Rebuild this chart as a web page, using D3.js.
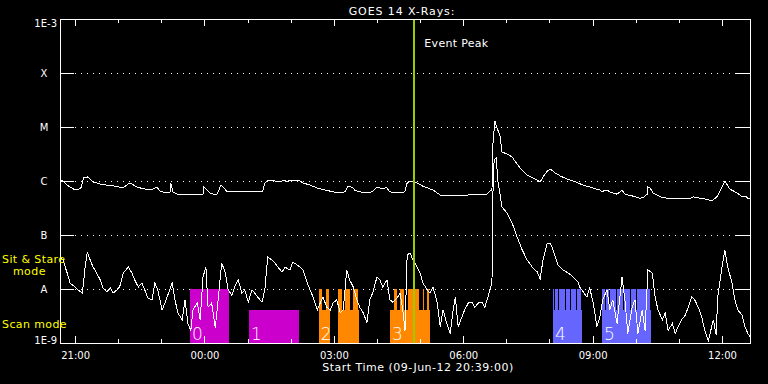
<!DOCTYPE html>
<meta charset="utf-8">
<style>
body { margin: 0; background: #000; }
svg { display: block; background: #000; }
text { font-family: "DejaVu Sans", sans-serif; fill: #fff; }
.axis path { display: none; }
.axis line { stroke: #fff; shape-rendering: crispEdges; }
.axis text { font-size: 10px; }
.grid line { stroke: #fff; stroke-dasharray: 1,5; shape-rendering: crispEdges; }
.xrs { fill: none; stroke: #fff; stroke-width: 1; shape-rendering: crispEdges; }
.mode { fill: #ff0; font-size: 11px; letter-spacing: 0.4px; }
.blk text { font-size: 17px; font-weight: 200; }
</style>
<svg width="768" height="384"></svg>
<script src="https://d3js.org/d3.v7.min.js"></script>
<script>

// start / end of the plotted interval
var t0 = new Date(Date.UTC(2012, 5, 9, 20, 39)),
    t1 = new Date(Date.UTC(2012, 5, 10, 12, 39));

var yTicks = [1e-9, 1e-8, 1e-7, 1e-6, 1e-5, 1e-4, 1e-3];
var yTickLabels = ["1E-9", "A", "B", "C", "M", "X", "1E-3"];

// GOES 14 long channel (1-8 A): [minutes after start, W/m^2]
var longXrs = [[0,1.04e-6],[4,1.0e-6],[8,0.88e-6],[14,0.77e-6],[19,0.71e-6],[25,0.70e-6],[29,0.74e-6],[33,1.14e-6],[38,1.19e-6],[42,1.09e-6],
  [46,0.96e-6],[51,0.92e-6],[56,0.88e-6],[65,0.84e-6],[74,0.81e-6],[83,0.77e-6],[89,0.77e-6],[93,0.84e-6],[96,0.92e-6],[100,0.88e-6],
  [107,0.77e-6],[118,0.71e-6],[129,0.71e-6],[135,0.77e-6],[139,0.65e-6],[146,0.61e-6],[153,0.61e-6],[154,0.92e-6],[157,0.63e-6],[163,0.57e-6],
  [174,0.56e-6],[188,0.55e-6],[199,0.57e-6],[200,0.77e-6],[205,0.68e-6],[209,0.60e-6],[214,0.57e-6],[218,0.56e-6],[221,0.68e-6],[224,0.84e-6],
  [228,0.74e-6],[232,0.65e-6],[241,0.63e-6],[257,0.63e-6],[271,0.63e-6],[282,0.65e-6],[285,0.92e-6],[288,1.0e-6],[292,1.04e-6],[299,1.0e-6],
  [306,0.96e-6],[312,1.04e-6],[316,0.96e-6],[320,1.04e-6],[324,1.0e-6],[330,1.04e-6],[334,1.0e-6],[338,0.92e-6],[348,0.84e-6],[358,0.74e-6],
  [369,0.68e-6],[380,0.63e-6],[387,0.60e-6],[394,0.61e-6],[397,0.65e-6],[401,0.81e-6],[405,0.77e-6],[408,0.74e-6],[410,0.68e-6],[417,0.63e-6],
  [426,0.60e-6],[434,0.63e-6],[441,0.77e-6],[445,0.74e-6],[449,0.71e-6],[454,0.77e-6],[459,0.63e-6],[469,0.60e-6],[477,0.60e-6],[480,0.65e-6],
  [483,0.92e-6],[487,1.0e-6],[491,1.0e-6],[497,0.92e-6],[504,0.81e-6],[512,0.74e-6],[519,0.68e-6],[529,0.55e-6],[543,0.53e-6],[557,0.53e-6],
  [566,0.53e-6],[570,0.57e-6],[584,0.57e-6],[594,0.57e-6],[598,0.65e-6],[601,0.68e-6],[602,4.26e-6],[605,1.29e-5],[608,9.6e-6],[612,7.1e-6],
  [615,3.45e-6],[622,3.16e-6],[629,2.78e-6],[640,1.74e-6],[650,1.29e-6],[658,1.14e-6],[668,0.96e-6],[672,1.19e-6],[678,1.53e-6],[682,1.67e-6],
  [689,1.41e-6],[696,1.24e-6],[705,1.09e-6],[714,1.0e-6],[728,0.84e-6],[742,0.74e-6],[751,0.68e-6],[755,0.63e-6],[758,0.68e-6],[761,0.68e-6],
  [765,0.63e-6],[775,0.57e-6],[779,0.63e-6],[782,0.68e-6],[786,0.57e-6],[796,0.53e-6],[807,0.48e-6],[813,0.51e-6],[817,0.57e-6],[818,0.77e-6],
  [821,0.74e-6],[825,0.60e-6],[835,0.51e-6],[845,0.48e-6],[863,0.48e-6],[877,0.48e-6],[881,0.51e-6],[890,0.48e-6],[900,0.46e-6],[907,0.43e-6],
  [914,0.51e-6],[921,0.77e-6],[925,1.0e-6],[932,0.71e-6],[942,0.60e-6],[949,0.51e-6],[953,0.53e-6],[957,0.48e-6],[960,0.48e-6]];

// GOES 14 short channel (0.5-4 A): [minutes after start, W/m^2]
var shortXrs = [[0,3.9e-8],[4,3.45e-8],[10,1.98e-8],[14,1.29e-8],[21,1.09e-8],[25,0.96e-8],[31,0.84e-8],[32,1.09e-8],[35,2.55e-8],[38,4.84e-8],
  [42,3.45e-8],[46,2.55e-8],[51,1.98e-8],[56,1.47e-8],[60,1.04e-8],[65,0.88e-8],[70,1.04e-8],[74,0.84e-8],[79,0.96e-8],[83,1.09e-8],
  [88,1.98e-8],[95,2.55e-8],[100,1.98e-8],[104,1.47e-8],[109,1.09e-8],[114,1.29e-8],[118,0.96e-8],[122,0.68e-8],[128,0.63e-8],[132,1.29e-8],
  [136,0.96e-8],[142,0.41e-8],[146,0.55e-8],[150,0.77e-8],[156,1.29e-8],[160,0.63e-8],[164,0.36e-8],[170,0.27e-8],[174,0.63e-8],[178,0.23e-8],
  [182,0.17e-8],[185,0.41e-8],[191,0.55e-8],[195,0.27e-8],[199,1.67e-8],[203,2.55e-8],[206,0.46e-8],[211,0.55e-8],[216,0.19e-8],[220,0.63e-8],
  [225,3.03e-8],[230,1.98e-8],[234,0.96e-8],[239,0.77e-8],[243,1.09e-8],[248,1.47e-8],[253,0.84e-8],[257,0.96e-8],[262,0.57e-8],[267,0.96e-8],
  [271,0.84e-8],[275,0.71e-8],[281,0.57e-8],[285,0.96e-8],[289,3.91e-8],[295,3.45e-8],[299,3.03e-8],[303,2.55e-8],[309,2.07e-8],[313,2.55e-8],
  [320,2.25e-8],[324,3.16e-8],[330,2.78e-8],[334,2.55e-8],[338,2.25e-8],[344,1.29e-8],[348,0.96e-8],[352,0.71e-8],[358,0.41e-8],[362,0.55e-8],
  [366,0.71e-8],[371,0.46e-8],[376,0.41e-8],[380,0.55e-8],[385,0.63e-8],[390,0.36e-8],[394,0.41e-8],[399,2.25e-8],[403,1.47e-8],[408,1.09e-8],
  [413,0.63e-8],[417,0.46e-8],[422,0.36e-8],[427,0.24e-8],[431,0.63e-8],[435,0.84e-8],[441,1.67e-8],[445,1.47e-8],[449,1.09e-8],[455,1.47e-8],
  [459,0.63e-8],[463,0.57e-8],[469,0.68e-8],[473,0.84e-8],[477,0.41e-8],[480,0.17e-8],[483,4.26e-8],[487,4.64e-8],[491,3.45e-8],[497,2.55e-8],
  [501,1.98e-8],[505,1.29e-8],[511,0.96e-8],[515,0.84e-8],[519,1.09e-8],[525,0.55e-8],[529,0.20e-8],[533,0.41e-8],[538,0.23e-8],[543,0.15e-8],
  [547,0.41e-8],[550,0.71e-8],[554,0.20e-8],[559,0.30e-8],[563,0.41e-8],[568,0.55e-8],[573,0.57e-8],[577,0.46e-8],[582,0.55e-8],[587,0.57e-8],
  [591,0.46e-8],[595,0.68e-8],[601,1.29e-8],[602,4.45e-7],[604,2.45e-6],[607,2.67e-6],[609,1.04e-6],[615,3.3e-7],[622,2.55e-7],[629,1.67e-7],
  [636,9.2e-8],[643,5.3e-8],[650,3.45e-8],[657,2.55e-8],[664,2.07e-8],[668,1.53e-8],[672,3.45e-8],[678,7.1e-8],[682,7.1e-8],[686,5.3e-8],
  [693,2.78e-8],[700,2.25e-8],[707,1.98e-8],[714,1.67e-8],[721,1.35e-8],[723,1.09e-8],[728,0.88e-8],[733,0.71e-8],[737,1.04e-8],[742,0.55e-8],
  [747,0.20e-8],[751,0.30e-8],[755,0.63e-8],[761,0.96e-8],[765,0.41e-8],[769,0.63e-8],[775,0.23e-8],[782,1.67e-8],[786,0.63e-8],[790,0.15e-8],
  [796,0.46e-8],[800,0.63e-8],[804,0.15e-8],[810,0.41e-8],[814,0.17e-8],[818,2.25e-8],[824,1.98e-8],[828,0.71e-8],[832,0.41e-8],[838,0.27e-8],
  [842,0.36e-8],[846,0.17e-8],[852,0.23e-8],[856,0.15e-8],[860,0.20e-8],[865,0.27e-8],[870,0.33e-8],[874,0.46e-8],[879,0.71e-8],[883,0.63e-8],
  [888,0.46e-8],[893,0.30e-8],[897,0.17e-8],[902,0.11e-8],[909,0.27e-8],[913,0.14e-8],[915,0.71e-8],[921,2.55e-8],[925,5.3e-8],[929,2.55e-8],
  [935,1.29e-8],[939,0.63e-8],[943,0.41e-8],[949,0.33e-8],[953,0.20e-8],[957,0.15e-8],[960,0.13e-8]];

// observing blocks
var blockNames = ["0", "1", "2", "3", "4", "5"];
var blockColors = ["#cc00cc", "#cc00cc", "#ff8800", "#ff8800", "#6666ff", "#6666ff"];
var scanLevel = 4e-9, stareLevel = 1e-8;
// [block, start, end] scan mode coverage
var scanSpans = [[0,"23:40","00:34"],[1,"01:02","02:11"],[2,"02:39","02:55"],[2,"03:06","03:35"],
  [3,"04:18","05:14"],[4,"08:05","08:45"],[5,"09:13","10:21"]];
// [block, start, end] sit & stare frames
var stareFrames = [[0,"23:40","00:35"],
  [2,"02:39","02:45"],[2,"02:49","02:55"],[2,"03:06","03:13"],[2,"03:16","03:24"],[2,"03:27","03:35"],
  [3,"04:24","04:29"],[3,"04:32","04:39"],[3,"04:43","05:00"],[3,"05:04","05:07"],[3,"05:10","05:14"],
  [4,"08:05","08:08"],[4,"08:08","08:13"],[4,"08:13","08:23"],[4,"08:23","08:30"],[4,"08:30","08:38"],[4,"08:38","08:45"],
  [5,"09:13","09:19"],[5,"09:19","09:24"],[5,"09:24","09:34"],[5,"09:34","09:44"],[5,"09:44","09:53"],[5,"09:53","10:02"],
  [5,"10:02","10:16"],[5,"10:16","10:21"]];
var eventPeak = "04:52";

function clock(s) {
  var p = s.split(":"), h = +p[0], m = +p[1];
  return new Date(Date.UTC(2012, 5, h >= 20 ? 9 : 10, h, m));
}
function after(min) { return new Date(t0.getTime() + min * 60000); }

var svg = d3.select("svg"),
    margin = {top: 19, right: 18, bottom: 41, left: 60},
    width = +svg.attr("width") - margin.left - margin.right,
    height = +svg.attr("height") - margin.top - margin.bottom,
    g = svg.append("g").attr("transform", "translate(" + margin.left + "," + margin.top + ")");

var x = d3.scaleUtc().domain([t0, t1]).range([0, width]);
var y = d3.scaleLog().domain([1e-9, 1e-3]).range([height, 0]);

g.append("clipPath").attr("id", "plot")
  .append("rect").attr("width", width).attr("height", height);

// dotted class lines
g.append("g").attr("class", "grid")
  .selectAll("line").data(yTicks.slice(1, -1))
  .enter().append("line")
    .attr("x1", 15).attr("x2", width - 14)
    .attr("y1", function(d) { return y(d); }).attr("y2", function(d) { return y(d); });

// blocks
var blk = g.append("g").attr("class", "blk").attr("shape-rendering", "crispEdges");
blk.selectAll(".scan").data(scanSpans).enter().append("rect")
    .attr("x", function(d) { return x(clock(d[1])); })
    .attr("width", function(d) { return x(clock(d[2])) - x(clock(d[1])); })
    .attr("y", y(scanLevel))
    .attr("height", height - y(scanLevel))
    .attr("fill", function(d) { return blockColors[d[0]]; });
blk.selectAll(".stare").data(stareFrames).enter().append("rect")
    .attr("x", function(d) { return x(clock(d[1])); })
    .attr("width", function(d) { return x(clock(d[2])) - x(clock(d[1])) - 1; })
    .attr("y", y(stareLevel))
    .attr("height", y(scanLevel) - y(stareLevel))
    .attr("fill", function(d) { return blockColors[d[0]]; });
blk.selectAll("text").data(blockNames).enter().append("text")
    .attr("x", function(d, i) {
      var s = scanSpans.filter(function(b) { return b[0] === i; })[0];
      return x(clock(s[1])) + 2;
    })
    .attr("y", height - 3)
    .text(function(d) { return d; });

// light curves
var line = d3.line()
    .x(function(d) { return x(after(d[0])); })
    .y(function(d) { return y(d[1]); });
var curves = g.append("g").attr("clip-path", "url(#plot)");
curves.append("path").attr("class", "xrs").attr("d", line(longXrs));
curves.append("path").attr("class", "xrs").attr("d", line(shortXrs));

// event peak marker
var xp = x(clock(eventPeak));
g.append("line")
    .attr("x1", xp).attr("x2", xp).attr("y1", 0).attr("y2", height)
    .attr("stroke", "#9acd00").attr("stroke-width", 2)
    .attr("shape-rendering", "crispEdges");
g.append("text").attr("x", xp + 10).attr("y", 28)
    .attr("font-size", 11).attr("letter-spacing", 0.3)
    .text("Event Peak");

// axes
var hours = d3.utcHour.every(1).range(t0, t1);
function major(d) { return d.getUTCHours() % 3 === 0; }

var yl = g.append("g").attr("class", "axis")
    .call(d3.axisLeft(y).tickValues(yTicks).tickSize(-14).tickPadding(3)
      .tickFormat(function(d, i) { return yTickLabels[i]; }));
yl.selectAll("text")
    .attr("text-anchor", function(d, i) { return yTickLabels[i].length === 1 ? "middle" : "end"; })
    .attr("x", function(d, i) { return yTickLabels[i].length === 1 ? -16 : -3; })
    .attr("dy", function(d, i) { return i === 0 ? "0em" : i === yTicks.length - 1 ? "0.75em" : "0.36em"; });

g.append("g").attr("class", "axis")
    .attr("transform", "translate(" + width + ",0)")
    .call(d3.axisRight(y).tickValues(yTicks).tickSize(-14).tickFormat(""));

var xb = g.append("g").attr("class", "axis")
    .attr("transform", "translate(0," + height + ")")
    .call(d3.axisBottom(x).tickValues(hours).tickSize(0).tickPadding(9)
      .tickFormat(function(d) { return major(d) ? d3.utcFormat("%H:%M")(d) : ""; }));
xb.selectAll(".tick line").attr("y2", function(d) { return major(d) ? -7 : -4; });

var xt = g.append("g").attr("class", "axis")
    .call(d3.axisTop(x).tickValues(hours).tickSize(0).tickFormat(""));
xt.selectAll(".tick line").attr("y2", function(d) { return major(d) ? 7 : 4; });

// frame
g.append("rect").attr("width", width).attr("height", height)
    .attr("fill", "none").attr("stroke", "#fff").attr("shape-rendering", "crispEdges");

// titles
svg.append("text").attr("x", 402).attr("y", 15).attr("text-anchor", "middle")
    .attr("font-size", 11).attr("letter-spacing", 0.9)
    .text("GOES 14 X-Rays:");
svg.append("text").attr("x", 418).attr("y", 371).attr("text-anchor", "middle")
    .attr("font-size", 11).attr("letter-spacing", 0.5)
    .text("Start Time (09-Jun-12 20:39:00)");

svg.append("text").attr("class", "mode").attr("x", 2).attr("y", 263).text("Sit & Stare");
svg.append("text").attr("class", "mode").attr("x", 13).attr("y", 275).text("mode");
svg.append("text").attr("class", "mode").attr("x", 2).attr("y", 328).text("Scan mode");

</script>
